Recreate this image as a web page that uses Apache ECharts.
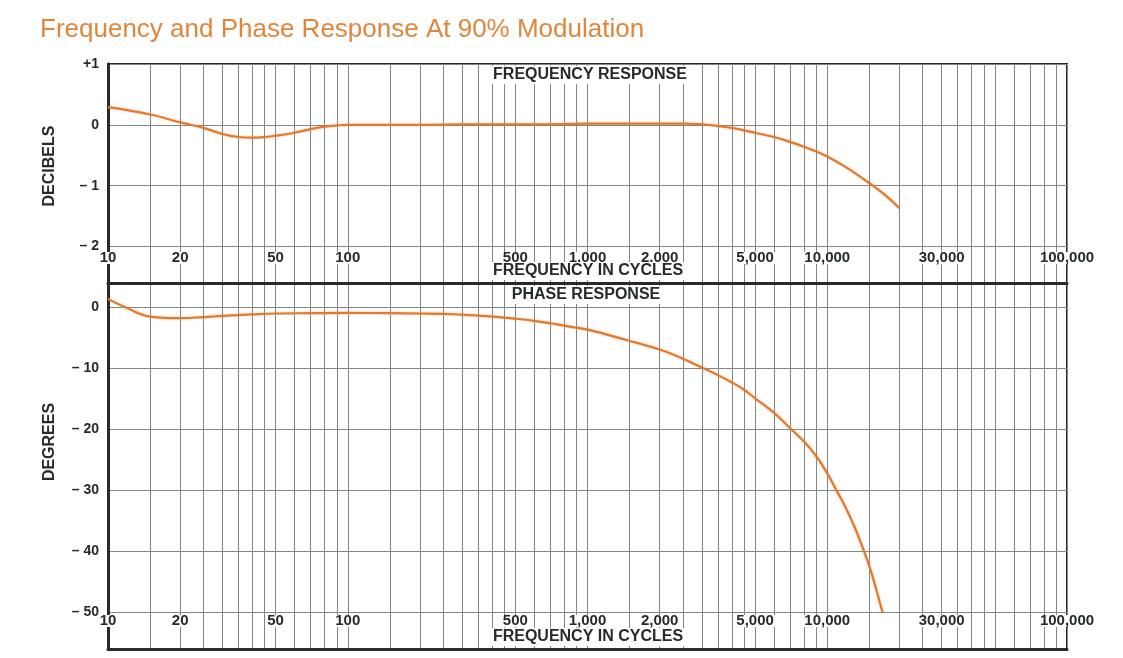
<!DOCTYPE html>
<html>
<head>
<meta charset="utf-8">
<script src="https://cdn.jsdelivr.net/npm/echarts@6.0.0/dist/echarts.min.js"></script>
<style>
  html, body { margin: 0; padding: 0; background: #fff; }
  #container { width: 1123px; height: 658px; }
</style>
</head>
<body>
<div id="container"></div>
<script>
  var dom = document.getElementById("container");
  var myChart = echarts.init(dom);

  // frequency response (dB)
  var ampFreq = [10, 15, 20, 25, 30, 35, 40, 45, 50, 60, 70, 80, 90, 100, 150, 200, 300, 500, 700, 1000,
      1500, 2000, 2500, 3000, 3500, 4000, 4500, 5000, 6000, 7000, 8000, 9000, 10000, 12000, 15000, 17500, 20000];
  var ampDb = [0.29, 0.17, 0.04, -0.05, -0.15, -0.20, -0.21, -0.20, -0.18, -0.13, -0.07, -0.03, -0.01, 0, 0, 0, 0.01, 0.01, 0.01, 0.02,
      0.02, 0.02, 0.02, 0.01, -0.02, -0.05, -0.09, -0.13, -0.20, -0.28, -0.36, -0.44, -0.52, -0.70, -0.96, -1.16, -1.37];

  // phase response (degrees)
  var phaseFreq = [10, 12, 15, 20, 25, 30, 40, 50, 70, 100, 150, 200, 250, 300, 400, 500, 600, 700, 800, 1000,
      1500, 2000, 2500, 3000, 3500, 4000, 4500, 5000, 6000, 7000, 8000, 9000, 10000,
      11000, 12000, 13000, 14000, 15000, 16000, 17000];
  var phaseDeg = [1.4, -0.1, -1.5, -1.75, -1.6, -1.4, -1.15, -1.0, -0.95, -0.9, -0.95, -1.0, -1.05, -1.2, -1.5, -1.85, -2.2, -2.6, -3.0, -3.65,
      -5.5, -6.9, -8.4, -9.85, -11.1, -12.3, -13.5, -14.9, -17.3, -19.8, -22.0, -24.4, -27.2,
      -30.2, -33.0, -36.0, -39.2, -42.5, -46.2, -50.0];

  // tick labels
  var freqLabels = [10, 20, 50, 100, 500, 1000, 2000, 5000, 10000, 30000, 100000];
  var dbTicks = [1, 0, -1, -2];
  var degTicks = [0, -10, -20, -30, -40, -50];

  // log paper lines in every decade
  var decadeSteps = [1, 1.5, 2, 2.5, 3, 3.5, 4, 4.5, 5, 6, 7, 8, 9];
  var gridFreqs = [];
  [10, 100, 1000, 10000].forEach(function (d) {
      decadeSteps.forEach(function (m) { gridFreqs.push(d * m); });
  });
  gridFreqs.push(100000);

  var ink = '#252b2b';
  var gridGrey = '#7f8888';
  var curve = '#e07a2e';
  var font = '"Liberation Sans", Arial, Helvetica, sans-serif';

  function signed(v) {
      if (v > 0) return '+' + v;
      if (v < 0) return '\u2013 ' + (-v);
      return '0';
  }

  function pair(xs, ys) {
      return xs.map(function (x, i) { return [x, ys[i]]; });
  }

  function freqAxis(gi, margin) {
      return {
          gridIndex: gi,
          type: 'log',
          logBase: 10,
          min: 10,
          max: 100000,
          position: 'bottom',
          axisLine: { show: true, onZero: false, lineStyle: { color: ink, width: 3 } },
          axisTick: { show: false, customValues: gridFreqs },
          splitLine: { show: true, lineStyle: { color: gridGrey, width: 1 } },
          axisLabel: {
              customValues: freqLabels,
              inside: true,
              margin: margin,
              color: ink,
              fontSize: 15,
              lineHeight: 12,
              fontWeight: 'bold',
              fontFamily: font,
              backgroundColor: '#fff',
              padding: [0, 2],
              formatter: function (v) { return Number(v).toLocaleString('en-US'); }
          }
      };
  }

  function levelAxis(gi, min, max, ticks) {
      return {
          gridIndex: gi,
          type: 'value',
          min: min,
          max: max,
          axisLine: { show: true, onZero: false, lineStyle: { color: ink, width: 3 } },
          axisTick: { show: false, customValues: ticks },
          splitLine: { show: true, lineStyle: { color: gridGrey, width: 1 } },
          axisLabel: {
              customValues: ticks,
              margin: 9,
              color: ink,
              fontSize: 14,
              fontWeight: 'bold',
              fontFamily: font,
              formatter: signed
          }
      };
  }

  function caption(text, x, y) {
      return {
          type: 'text',
          x: x,
          y: y,
          z: 100,
          style: {
              text: text,
              fill: ink,
              font: 'bold 16px ' + font,
              align: 'center',
              verticalAlign: 'middle',
              backgroundColor: '#fff',
              padding: [1, 4]
          }
      };
  }

  function sideName(text, y) {
      return {
          type: 'text',
          x: 50,
          y: y,
          rotation: Math.PI / 2,
          style: {
              text: text, fill: ink, font: 'bold 16px ' + font,
              align: 'center', verticalAlign: 'middle'
          }
      };
  }

  function responseLine(name, idx, data) {
      return {
          name: name,
          type: 'line',
          xAxisIndex: idx,
          yAxisIndex: idx,
          smooth: 0.4,
          showSymbol: false,
          lineStyle: {
              color: curve,
              width: 2.2,
              shadowBlur: 3,
              shadowColor: 'rgba(224, 122, 46, 0.35)'
          },
          data: data
      };
  }

  option = {
      animation: false,
      backgroundColor: '#fff',
      grid: [{
              left: 108,
              right: 56,
              top: 64,
              height: 219,
              show: true,
              borderColor: ink,
              borderWidth: 2
          },
          {
              left: 108,
              right: 56,
              top: 283,
              height: 366,
              show: true,
              borderColor: ink,
              borderWidth: 2
          }
      ],
      xAxis: [freqAxis(0, 19), freqAxis(1, 22)],
      yAxis: [levelAxis(0, -2.6, 1, dbTicks), levelAxis(1, -56, 4, degTicks)],
      graphic: [{
              type: 'text',
              x: 40,
              y: 30,
              style: {
                  text: 'Frequency and Phase Response At 90% Modulation',
                  fill: '#e0873c',
                  font: '26px ' + font,
                  align: 'left',
                  verticalAlign: 'middle'
              }
          },
          caption('FREQUENCY RESPONSE', 590, 75),
          caption('FREQUENCY IN CYCLES', 588, 271),
          caption('PHASE RESPONSE', 586, 295),
          caption('FREQUENCY IN CYCLES', 588, 637),
          sideName('DECIBELS', 166),
          sideName('DEGREES', 442)
      ],
      series: [
          responseLine('Frequency response', 0, pair(ampFreq, ampDb)),
          responseLine('Phase response', 1, pair(phaseFreq, phaseDeg))
      ]
  };
  if (option && typeof option === "object") {
      myChart.setOption(option, true);
  }
</script>
</body>
</html>
